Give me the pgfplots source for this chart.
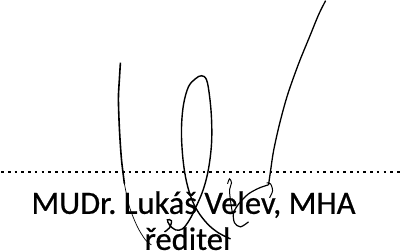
\documentclass[border=0pt]{standalone}
\usepackage{pgfplots}
\pgfplotsset{compat=1.18}
\usepackage{fontspec}
\setmainfont{Carlito}
\newfontfamily\sigfont[FakeBold=0.6]{Carlito}
\begin{document}
\begin{tikzpicture}
\begin{axis}[
  scale only axis, width=402pt, height=257pt,
  xmin=0, xmax=402, ymin=0, ymax=257, y dir=reverse,
  hide axis, clip=false,
]
% dotted line
\addplot[black, line width=2.6pt, dash pattern=on 2.6pt off 4.1pt] coordinates {(3,173) (402,173)};
% signature strokes
\addplot[black, line width=1.6pt, smooth] coordinates {(122,64) (121,80) (120,100) (121,130) (123,160) (126,185)};
\addplot[black, line width=0.7pt, smooth] coordinates {(126,185) (131,208) (139,228) (147,241) (153,246)};
\addplot[black, line width=1.4pt, smooth, tension=0.6] coordinates {(232,240) (220,234) (209,225) (199,212) (192,197) (187,178) (184,155) (183,130) (185,106) (190,88) (197,80) (203,77) (208,81) (211,97) (213,120) (213,145) (210,170) (205,190) (198,207) (191,221) (184,230) (177,231) (171,226) (169,221) (173,222) (171,229) (166,233)};
\addplot[black, line width=1.3pt, smooth] coordinates {(327,2) (320,16) (311,38) (300,65) (289,96) (281,125) (275,152) (272,172) (270,186)};
\addplot[black, line width=1.0pt, smooth] coordinates {(268,184) (272,185) (274,192) (271,199)};
\addplot[black, line width=1.2pt, smooth] coordinates {(270,186) (261,189) (250,195) (241,204) (235,214) (236,224) (242,228) (250,223)};
\addplot[black, line width=1.0pt, smooth] coordinates {(229,185) (231,180) (233,184) (231,191) (232,202) (234,215)};
\node[anchor=base, font=\sigfont\fontsize{32.5}{32.5}\selectfont, inner sep=0pt] at (axis cs:195,215) {MUDr.\ Lukáš Velev, MHA};
\node[anchor=base, font=\sigfont\fontsize{32.5}{32.5}\selectfont, inner sep=0pt] at (axis cs:189,251) {ředitel};
\end{axis}
\end{tikzpicture}
\end{document}
